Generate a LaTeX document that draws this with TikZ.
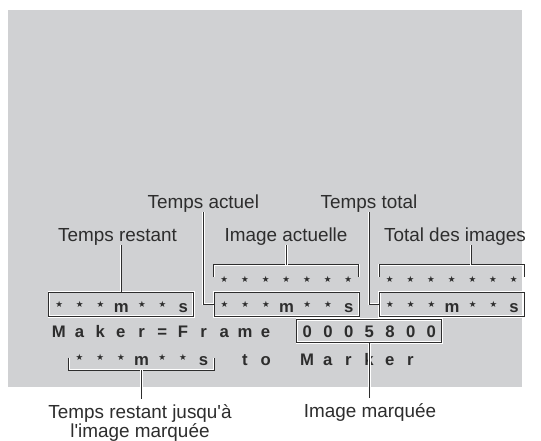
\documentclass[tikz,border=0pt]{standalone}
\usepackage{fontspec}
\setmainfont{Liberation Sans}[Ligatures=TeXOff]
\newfontfamily\djv{DejaVu Sans}
\definecolor{panel}{RGB}{208,209,211}
\definecolor{ink}{RGB}{45,45,45}
\definecolor{lnc}{RGB}{45,45,45}
\newlength\gp \setlength\gp{20.68pt}
\makeatletter
\newcommand\gridrow[1]{\@tfor\gx:=#1\do{\makebox[\gp][c]{\gx}}}
\makeatother
\newcommand\st{\raisebox{4.6pt}{\djv\fontsize{8.6}{8.6}\selectfont ★}}
\tikzset{
  lbl/.style={font=\fontsize{18.9}{19}\selectfont, text=ink, inner sep=0pt},
  grd/.style={font=\fontsize{16.7}{18}\selectfont\bfseries, text=ink, inner sep=0pt, anchor=base west},
  ln/.style={draw=lnc, line width=1pt, preaction={draw=white, line width=2.4pt}},
  boxed/.style={grd, ln, text height=20.5pt, text depth=4pt},
}
\begin{document}
\begin{tikzpicture}[x=1pt,y=-1pt]
\fill[white] (0,0) rectangle (541,440);
\useasboundingbox (0,0) rectangle (541,440);
\fill[panel] (8,10) rectangle (522,387);

% labels
\node[lbl, anchor=base] (tr) at (117.5,241) {Temps restant};
\node[lbl, anchor=base] (ta) at (203.3,208) {Temps actuel};
\node[lbl, anchor=base] (ia) at (286,241) {Image actuelle};
\node[lbl, anchor=base] (tt) at (369,208) {Temps total};
\node[lbl, anchor=base] (ti) at (455,241) {Total des images};
\node[lbl, anchor=base] (im) at (370,417) {Image marquée};
\node[lbl, anchor=north, align=center] (tj) at (140,404) {Temps restant jusqu'à\\l'image marquée};

% row 1 (frames above)
\node[grd, text height=22pt, text depth=0pt] (r1a) at (213.74,287) {\gridrow{\st\st\st\st\st\st\st}};
\node[grd, text height=22pt, text depth=0pt] (r1b) at (379.18,287) {\gridrow{\st\st\st\st\st\st\st}};

% row 2 boxes
\node[boxed] (b1) at (48.3,312.5) {\gridrow{\st\st\st m\st\st s}};
\node[boxed] (b2) at (213.74,312.5) {\gridrow{\st\st\st m\st\st s}};
\node[boxed] (b3) at (379.18,312.5) {\gridrow{\st\st\st m\st\st s}};

% row 3
\node[grd] (mf) at (48.3,337.3) {\gridrow{Maker=Frame}};
\node[grd, ln, text height=18pt, text depth=5pt] (dg) at (296.46,337.3) {\gridrow{0005800}};

% row 4
\node[grd, text height=15pt, text depth=5pt] (r4a) at (68.98,365) {\gridrow{\st\st\st m\st\st s}};
\node[grd] (to) at (234.42,365) {\gridrow{to}};
\node[grd] (mk) at (296.46,365) {\gridrow{Marker}};

% brackets
\draw[ln] ([yshift=-11.7pt]r1a.north west) -- (r1a.north west) -- (r1a.north east) -- ([yshift=-11.7pt]r1a.north east);
\draw[ln] ([yshift=-11.7pt]r1b.north west) -- (r1b.north west) -- (r1b.north east) -- ([yshift=-11.7pt]r1b.north east);
\draw[ln] ([yshift=12.7pt]r4a.south west) -- (r4a.south west) -- (r4a.south east) -- ([yshift=12.7pt]r4a.south east);

% connectors
\draw[ln] (b1.north) -- (b1.north |- tr.south);
\draw[ln] (r1a.north) -- (r1a.north |- ia.south);
\coordinate (tis) at ([xshift=19.4pt]r1b.north);
\draw[ln] (tis) -- (tis |- ti.south);
\draw[ln] (ta.south) |- (b2.west);
\draw[ln] (tt.south) |- (b3.west);
\coordinate (imt) at ([yshift=5pt]im.north);
\draw[ln] (dg.south) -- (dg.south |- imt);
\coordinate (tjt) at ([yshift=5.5pt]tj.north);
\draw[ln] (r4a.south) -- (r4a.south |- tjt);
\end{tikzpicture}
\end{document}
